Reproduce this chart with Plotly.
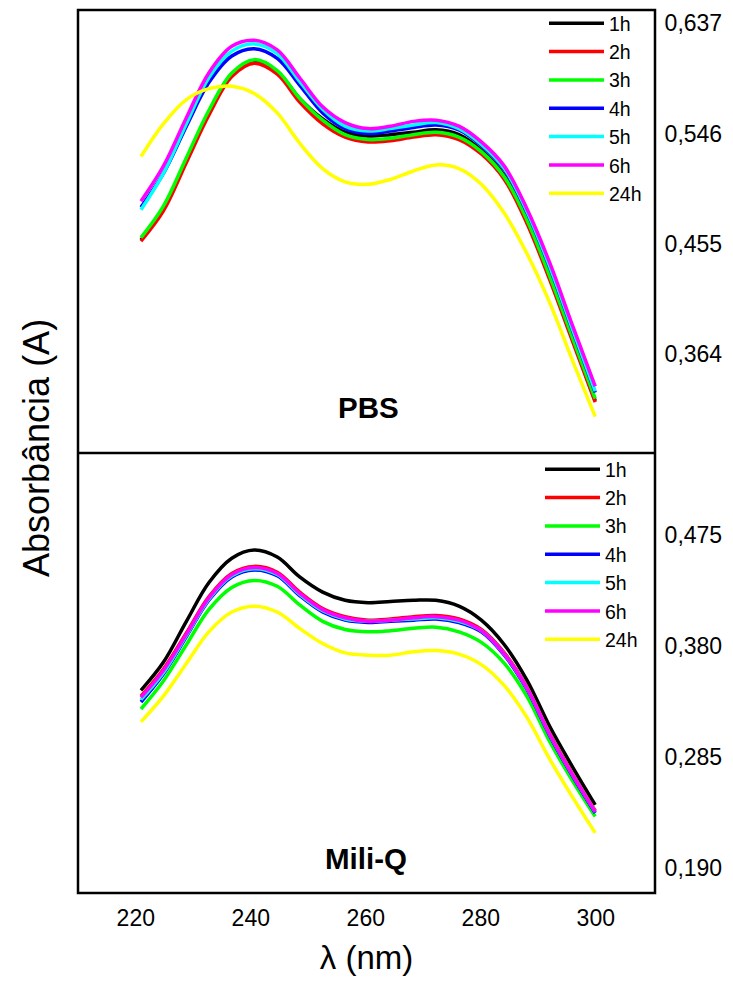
import plotly.graph_objects as go

wavelength = [220.9, 224.8, 228.8, 232.7, 236.7, 240.6, 244.6, 248.5, 252.5, 256.4,
              260.4, 264.3, 268.3, 272.2, 276.2, 280.1, 284.1, 288.0, 292.0, 295.9, 299.9]

series_names = ["1h", "2h", "3h", "4h", "5h", "6h", "24h"]
series_colors = ["#000000", "#ff0000", "#00ff00", "#0000ff", "#00ffff", "#ff00ff", "#ffff00"]

pbs_1h = [0.458, 0.484, 0.524, 0.563, 0.595, 0.606, 0.597, 0.575, 0.558, 0.547, 0.544, 0.545, 0.547, 0.549, 0.545, 0.532, 0.511, 0.475, 0.427, 0.377, 0.325]
pbs_2h = [0.457, 0.482, 0.522, 0.561, 0.593, 0.604, 0.595, 0.572, 0.554, 0.543, 0.539, 0.540, 0.543, 0.545, 0.541, 0.529, 0.508, 0.472, 0.425, 0.375, 0.324]
pbs_3h = [0.460, 0.486, 0.526, 0.565, 0.596, 0.607, 0.598, 0.575, 0.557, 0.545, 0.541, 0.542, 0.545, 0.547, 0.543, 0.531, 0.510, 0.475, 0.428, 0.378, 0.327]
pbs_4h = [0.485, 0.513, 0.552, 0.588, 0.610, 0.616, 0.608, 0.586, 0.563, 0.550, 0.546, 0.548, 0.551, 0.553, 0.549, 0.536, 0.516, 0.481, 0.435, 0.384, 0.332]
pbs_5h = [0.483, 0.513, 0.554, 0.592, 0.614, 0.620, 0.612, 0.589, 0.566, 0.552, 0.548, 0.550, 0.553, 0.555, 0.550, 0.537, 0.517, 0.482, 0.436, 0.385, 0.333]
pbs_6h = [0.490, 0.519, 0.559, 0.596, 0.618, 0.623, 0.615, 0.592, 0.568, 0.555, 0.550, 0.552, 0.556, 0.557, 0.552, 0.539, 0.519, 0.484, 0.439, 0.388, 0.337]
pbs_24h = [0.527, 0.554, 0.574, 0.583, 0.585, 0.579, 0.563, 0.538, 0.517, 0.506, 0.504, 0.508, 0.515, 0.520, 0.517, 0.504, 0.480, 0.447, 0.406, 0.359, 0.312]

mq_1h = [0.342, 0.366, 0.401, 0.434, 0.455, 0.462, 0.456, 0.439, 0.426, 0.419, 0.417, 0.418, 0.419, 0.419, 0.414, 0.402, 0.381, 0.351, 0.311, 0.277, 0.244]
mq_2h = [0.337, 0.360, 0.391, 0.422, 0.442, 0.448, 0.443, 0.426, 0.412, 0.405, 0.402, 0.403, 0.405, 0.406, 0.403, 0.394, 0.374, 0.345, 0.305, 0.271, 0.239]
mq_3h = [0.326, 0.350, 0.381, 0.411, 0.430, 0.436, 0.431, 0.415, 0.401, 0.394, 0.392, 0.393, 0.395, 0.396, 0.392, 0.383, 0.365, 0.337, 0.298, 0.265, 0.234]
mq_4h = [0.332, 0.356, 0.388, 0.419, 0.439, 0.445, 0.440, 0.423, 0.409, 0.402, 0.400, 0.401, 0.402, 0.403, 0.400, 0.392, 0.372, 0.343, 0.303, 0.269, 0.237]
mq_5h = [0.334, 0.357, 0.389, 0.420, 0.440, 0.446, 0.441, 0.424, 0.410, 0.403, 0.401, 0.402, 0.403, 0.404, 0.401, 0.393, 0.373, 0.344, 0.304, 0.270, 0.238]
mq_6h = [0.336, 0.359, 0.390, 0.421, 0.441, 0.447, 0.442, 0.425, 0.411, 0.404, 0.401, 0.402, 0.404, 0.405, 0.402, 0.393, 0.373, 0.344, 0.304, 0.270, 0.238]
mq_24h = [0.315, 0.337, 0.365, 0.392, 0.409, 0.414, 0.409, 0.395, 0.382, 0.374, 0.372, 0.372, 0.375, 0.376, 0.373, 0.364, 0.346, 0.319, 0.283, 0.251, 0.220]

pbs_series = [pbs_1h, pbs_2h, pbs_3h, pbs_4h, pbs_5h, pbs_6h, pbs_24h]
mq_series = [mq_1h, mq_2h, mq_3h, mq_4h, mq_5h, mq_6h, mq_24h]

x_ticks = [220, 240, 260, 280, 300]
x_ticktext = ["220", "240", "260", "280", "300"]
pbs_ticks = [0.364, 0.455, 0.546, 0.637]
pbs_ticktext = ["0,364", "0,455", "0,546", "0,637"]
mq_ticks = [0.190, 0.285, 0.380, 0.475]
mq_ticktext = ["0,190", "0,285", "0,380", "0,475"]

FONT = "Liberation Sans, Arial, sans-serif"

fig = go.Figure()

for name, color, ys in zip(series_names, series_colors, pbs_series):
    fig.add_trace(go.Scatter(x=wavelength, y=ys, mode="lines", name=name,
                             line=dict(color=color, width=3.5, shape="spline"),
                             xaxis="x", yaxis="y2", legend="legend"))
for name, color, ys in zip(series_names, series_colors, mq_series):
    fig.add_trace(go.Scatter(x=wavelength, y=ys, mode="lines", name=name,
                             line=dict(color=color, width=3.5, shape="spline"),
                             xaxis="x", yaxis="y", legend="legend2"))

W, H = 733, 989
L, R, T, B = 78, 78, 10, 96
PW, PH = W - L - R, H - T - B
split = 440 / PH

def px_x(px):
    return (px - L) / PW

def px_y(py):
    return (H - B - py) / PH

axis_common = dict(showline=False, showgrid=False, zeroline=False,
                   ticks="outside", ticklen=4, tickcolor="rgba(0,0,0,0)",
                   tickfont=dict(family=FONT, size=23, color="black"))

legend_common = dict(xanchor="left", yanchor="top", bgcolor="rgba(0,0,0,0)",
                     font=dict(family=FONT, size=19.5, color="black"), itemwidth=55,
                     tracegroupgap=0)

fig.update_layout(
    width=W, height=H,
    margin=dict(l=L, r=R, t=T, b=B, autoexpand=False),
    paper_bgcolor="white", plot_bgcolor="white",
    font=dict(family=FONT, color="black"),
    xaxis=dict(range=[209.95, 310.3], tickvals=x_ticks, ticktext=x_ticktext,
               anchor="y", domain=[0, 1],
               title=dict(text="λ (nm)", font=dict(family=FONT, size=33), standoff=16),
               **axis_common),
    yaxis=dict(range=[0.1686, 0.545], domain=[0, split], side="right", anchor="x",
               tickvals=mq_ticks, ticktext=mq_ticktext, **axis_common),
    yaxis2=dict(range=[0.282, 0.648], domain=[split, 1], side="right", anchor="x",
                tickvals=pbs_ticks, ticktext=pbs_ticktext, **axis_common),
    legend=dict(x=px_x(544), y=px_y(4), **legend_common),
    legend2=dict(x=px_x(540), y=px_y(450), **legend_common),
    showlegend=True,
    shapes=[
        dict(type="rect", xref="paper", yref="paper", x0=0, x1=1, y0=0, y1=1,
             line=dict(color="black", width=2.5), layer="above"),
        dict(type="line", xref="paper", yref="paper", x0=0, x1=1, y0=split, y1=split,
             line=dict(color="black", width=2.5), layer="above"),
    ],
    annotations=[
        dict(text="<b>PBS</b>", x=px_x(368), y=px_y(408), xref="paper", yref="paper",
             xanchor="center", yanchor="middle",
             showarrow=False, font=dict(family=FONT, size=29.5, color="black")),
        dict(text="<b>Mili-Q</b>", x=px_x(366), y=px_y(858), xref="paper", yref="paper",
             xanchor="center", yanchor="middle",
             showarrow=False, font=dict(family=FONT, size=29.5, color="black")),
        dict(text="Absorbância (A)", x=px_x(36), y=px_y(448), xref="paper", yref="paper",
             xanchor="center", yanchor="middle",
             textangle=-90, showarrow=False, font=dict(family=FONT, size=36, color="black")),
    ],
)

fig.write_html("out.html", config={"displayModeBar": False},
               post_script="document.body.style.margin='0';")
